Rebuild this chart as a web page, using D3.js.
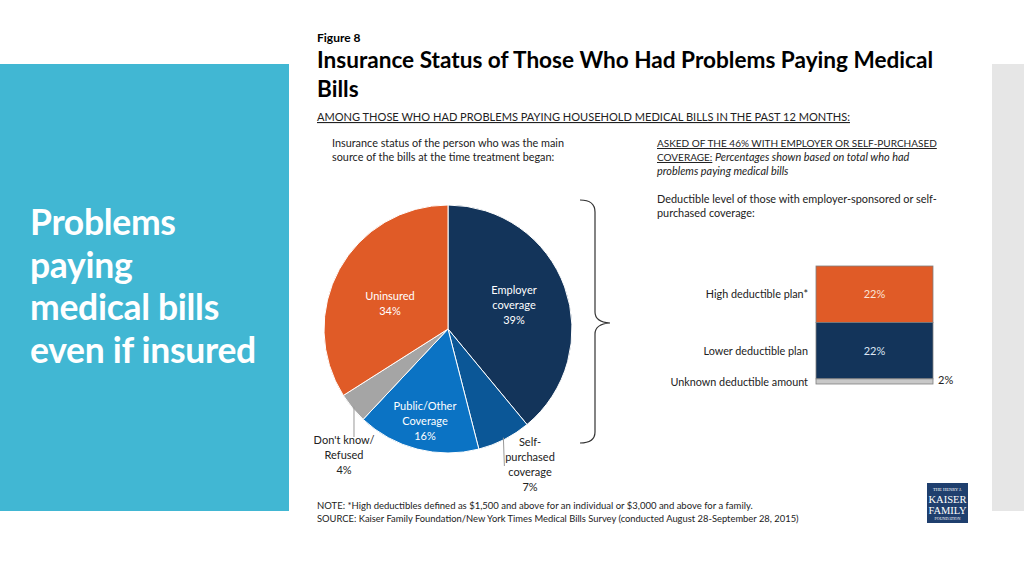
<!DOCTYPE html>
<html><head><meta charset="utf-8">
<script src="https://cdn.jsdelivr.net/npm/d3@7"></script>
<style>
html,body{margin:0;padding:0;background:#fff;}
svg{display:block;font-family:Lato,"Open Sans",sans-serif;}
</style></head>
<body>
<svg id="c" width="1024" height="576"></svg>
<script>
// ---- data ----
const pieCategories = ["Employer coverage","Self-purchased coverage","Public/Other Coverage","Don't know/ Refused","Uninsured"];
const pieValues = [39, 7, 16, 4, 34];
const pieColors = ["#13345a","#0b5797","#0b73c4","#a5a5a5","#e05b27"];
const barCategories = ["High deductible plan*","Lower deductible plan","Unknown deductible amount"];
const barValues = [22, 22, 2];
const barColors = ["#e05b27","#13345a","#c8c8c8"];

const svg = d3.select("#c");

// side panels
svg.append("rect").attr("x",0).attr("y",64).attr("width",289).attr("height",447).attr("fill","#41b7d3");
svg.append("rect").attr("x",992).attr("y",64).attr("width",32).attr("height",447).attr("fill","#e6e6e6");
const side = svg.append("text").attr("fill","#fff").attr("font-weight","bold").attr("font-size",35.5).attr("x",30).attr("letter-spacing",-0.3);
["Problems","paying","medical bills","even if insured"].forEach((t,i)=>{
  side.append("tspan").attr("x",30).attr("y",235+i*42.5).text(t);
});

// titles
svg.append("text").attr("x",317).attr("y",42).attr("font-size",12).attr("font-weight","bold").attr("fill","#000").text("Figure 8");
svg.append("text").attr("x",317).attr("y",68).attr("font-size",22.6).attr("font-weight","bold").attr("fill","#000").text("Insurance Status of Those Who Had Problems Paying Medical");
svg.append("text").attr("x",317).attr("y",97).attr("font-size",22.6).attr("font-weight","bold").attr("fill","#000").text("Bills");
svg.append("text").attr("x",317).attr("y",121).attr("font-size",11.05).attr("fill","#222").attr("text-decoration","underline").text("AMONG THOSE WHO HAD PROBLEMS PAYING HOUSEHOLD MEDICAL BILLS IN THE PAST 12 MONTHS:");

// left subtitle
const ls = svg.append("text").attr("font-size",10.85).attr("fill","#222");
ls.append("tspan").attr("x",332).attr("y",147).text("Insurance status of the person who was the main");
ls.append("tspan").attr("x",332).attr("y",161).text("source of the bills at the time treatment began:");

// right subtitle
svg.append("text").attr("font-size",10).attr("fill","#222").attr("x",657).attr("y",147).attr("text-decoration","underline").text("ASKED OF THE 46% WITH EMPLOYER OR SELF-PURCHASED");
const r2 = svg.append("text").attr("fill","#222").attr("x",657).attr("y",161);
r2.append("tspan").attr("font-size",10).attr("text-decoration","underline").text("COVERAGE:");
r2.append("tspan").attr("font-size",10.9).attr("font-style","italic").text(" Percentages shown based on total who had");
svg.append("text").attr("font-size",10.9).attr("fill","#222").attr("font-style","italic").attr("x",657).attr("y",175).text("problems paying medical bills");
svg.append("text").attr("font-size",10.9).attr("fill","#222").attr("x",657).attr("y",203).text("Deductible level of those with employer-sponsored or self-");
svg.append("text").attr("font-size",10.9).attr("fill","#222").attr("x",657).attr("y",217).text("purchased coverage:");

// pie
const cx = 448, cy = 329, R = 124;
const pie = d3.pie().sort(null).value(d=>d.v)(pieValues.map((v,i)=>({v,i})));
const arc = d3.arc().innerRadius(0).outerRadius(R);
const g = svg.append("g").attr("transform",`translate(${cx},${cy})`);
g.selectAll("path").data(pie).join("path")
  .attr("d",arc).attr("fill",d=>pieColors[d.data.i]).attr("stroke","#fff").attr("stroke-width",1);

function lbl(lines, x, y, fill){
  const t = svg.append("text").attr("font-size",11).attr("fill",fill).attr("text-anchor","middle");
  lines.forEach((l,i)=>t.append("tspan").attr("x",x).attr("y",y+i*15).text(l));
}
lbl(["Employer","coverage",pieValues[0]+"%"], 514, 294, "#fff");
lbl(["Uninsured",pieValues[4]+"%"], 390, 300, "#fff");
lbl(["Public/Other","Coverage",pieValues[2]+"%"], 425, 410, "#fff");
lbl(["Don't know/","Refused",pieValues[3]+"%"], 344, 444, "#222");
lbl(["Self-","purchased","coverage",pieValues[1]+"%"], 530, 446, "#222");

// leader lines
const outer = d3.arc().innerRadius(R-2).outerRadius(R-2);
const pDK = outer.centroid(pie[3]);
svg.append("line").attr("x1",cx+pDK[0]).attr("y1",cy+pDK[1]).attr("x2",cx+pDK[0]).attr("y2",437).attr("stroke","#999").attr("stroke-width",1);
const pSP = outer.centroid(pie[1]);
svg.append("line").attr("x1",cx+pSP[0]).attr("y1",cy+pSP[1]).attr("x2",cx+pSP[0]+1).attr("y2",466).attr("stroke","#999").attr("stroke-width",1);

// brace
svg.append("path").attr("fill","none").attr("stroke","#333").attr("stroke-width",1.2)
  .attr("d","M580,200 Q595,200 595,212 L595,312 Q595,322 610,323 Q595,324 595,334 L595,432 Q595,443 580,443");

// stacked bar
const barX = 816, barW = 117, barTop = 266;
const y = d3.scaleLinear().domain([0, d3.sum(barValues)]).range([barTop, barTop+118]);
let cum = 0;
const stack = barValues.map((v,i)=>{ const s = {v,i,y0:cum,y1:cum+v}; cum+=v; return s; });
svg.selectAll("rect.bar").data(stack).join("rect").attr("class","bar")
  .attr("x",barX).attr("width",barW)
  .attr("y",d=>y(d.y0)).attr("height",d=>y(d.y1)-y(d.y0))
  .attr("fill",d=>barColors[d.i]).attr("stroke","#7f7f7f").attr("stroke-width",0.8);
stack.forEach(d=>{
  const mid = (y(d.y0)+y(d.y1))/2;
  svg.append("text").attr("x",808).attr("y", d.i===2 ? mid+5 : mid+4).attr("text-anchor","end")
    .attr("font-size",10.8).attr("fill","#222").text(barCategories[d.i]);
  if(d.i<2){
    svg.append("text").attr("x",barX+barW/2).attr("y",mid+4).attr("text-anchor","middle")
      .attr("font-size",11).attr("fill",d.i===0?"#fbe3d6":"#dbe6f4").text(d.v+"%");
  } else {
    svg.append("text").attr("x",938).attr("y",mid+3).attr("font-size",11).attr("fill","#222").text(d.v+"%");
  }
});

// notes
svg.append("text").attr("x",317).attr("y",509).attr("font-size",9.5).attr("fill","#222").text("NOTE: *High deductibles defined as $1,500 and above for an individual or $3,000 and above for a family.");
svg.append("text").attr("x",317).attr("y",522).attr("font-size",9.4).attr("fill","#222").text("SOURCE: Kaiser Family Foundation/New York Times Medical Bills Survey (conducted August 28-September 28, 2015)");

// logo
const lg = svg.append("g");
lg.append("rect").attr("x",927).attr("y",483).attr("width",41).attr("height",40).attr("fill","#1f3f6e");
lg.append("text").attr("x",947.5).attr("y",491).attr("text-anchor","middle").attr("font-family","Liberation Serif,serif").attr("font-size",4.5).attr("fill","#fff").text("THE HENRY J.");
lg.append("text").attr("x",947.5).attr("y",503).attr("text-anchor","middle").attr("font-family","Liberation Serif,serif").attr("font-size",10.5).attr("fill","#fff").attr("textLength",38).text("KAISER");
lg.append("text").attr("x",947.5).attr("y",514).attr("text-anchor","middle").attr("font-family","Liberation Serif,serif").attr("font-size",10.5).attr("fill","#fff").attr("textLength",38).text("FAMILY");
lg.append("text").attr("x",947.5).attr("y",520).attr("text-anchor","middle").attr("font-family","Liberation Serif,serif").attr("font-size",4).attr("fill","#fff").text("FOUNDATION");
</script>
</body></html>
